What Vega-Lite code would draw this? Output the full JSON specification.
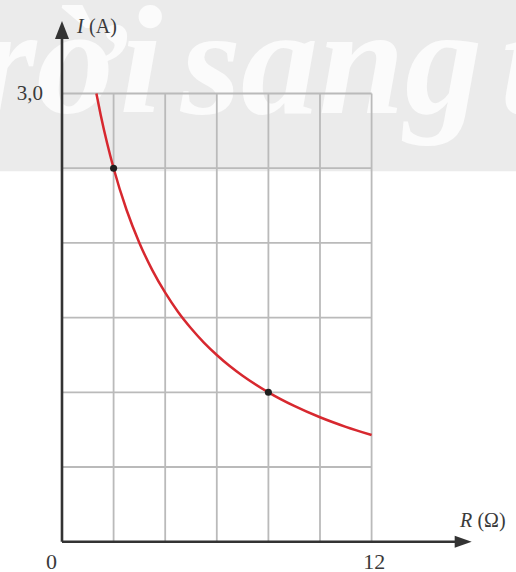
{
  "$schema": "https://vega.github.io/schema/vega-lite/v6.json",
  "width": 516,
  "height": 572,
  "autosize": "none",
  "padding": 0,
  "background": "white",
  "config": {"view": {"stroke": null}},
  "data": {"values": [{"note": "annotation"}]},
  "datasets": {
    "curve": [
      {"R": 1.333, "I": 3.0},
      {"R": 1.5, "I": 2.857},
      {"R": 1.75, "I": 2.667},
      {"R": 2, "I": 2.5},
      {"R": 2.5, "I": 2.222},
      {"R": 3, "I": 2.0},
      {"R": 3.5, "I": 1.818},
      {"R": 4, "I": 1.667},
      {"R": 4.5, "I": 1.538},
      {"R": 5, "I": 1.429},
      {"R": 5.5, "I": 1.333},
      {"R": 6, "I": 1.25},
      {"R": 6.5, "I": 1.176},
      {"R": 7, "I": 1.111},
      {"R": 8, "I": 1.0},
      {"R": 9, "I": 0.909},
      {"R": 10, "I": 0.833},
      {"R": 11, "I": 0.769},
      {"R": 12, "I": 0.714}
    ],
    "points": [
      {"R": 2, "I": 2.5},
      {"R": 8, "I": 1.0}
    ],
    "vgrid": [{"R": 2}, {"R": 4}, {"R": 6}, {"R": 8}, {"R": 10}, {"R": 12}],
    "hgrid": [{"I": 0.5}, {"I": 1.0}, {"I": 1.5}, {"I": 2.0}, {"I": 2.5}, {"I": 3.0}]
  },
  "layer": [
    {
      "mark": {"type": "rect", "color": "#ebebeb"},
      "encoding": {
        "x": {"datum": -2.6, "type": "quantitative", "scale": {"domain": [-2.403, 17.597], "nice": false, "zero": false}, "axis": null},
        "x2": {"datum": 17.8},
        "y": {"datum": 2.48, "type": "quantitative", "scale": {"domain": [-0.2028, 3.626], "nice": false, "zero": false}, "axis": null},
        "y2": {"datum": 3.7}
      }
    },
    {
      "mark": {"type": "text", "color": "#fbfbfb", "font": "Liberation Sans Narrow", "fontStyle": "italic", "fontWeight": "bold", "fontSize": 155, "align": "left", "baseline": "alphabetic"},
      "encoding": {
        "x": {"datum": 4.6, "type": "quantitative"},
        "y": {"datum": 2.869, "type": "quantitative"},
        "text": {"value": "sang"}
      }
    },
    {
      "mark": {"type": "text", "color": "#fbfbfb", "font": "Liberation Sans Narrow", "fontStyle": "italic", "fontWeight": "bold", "fontSize": 155, "align": "right", "baseline": "alphabetic"},
      "encoding": {
        "x": {"datum": 3.9, "type": "quantitative"},
        "y": {"datum": 2.869, "type": "quantitative"},
        "text": {"value": "rời"}
      }
    },
    {
      "mark": {"type": "text", "color": "#fbfbfb", "font": "Liberation Sans Narrow", "fontStyle": "italic", "fontWeight": "bold", "fontSize": 155, "align": "left", "baseline": "alphabetic"},
      "encoding": {
        "x": {"datum": 17.0, "type": "quantitative"},
        "y": {"datum": 2.869, "type": "quantitative"},
        "text": {"value": "tr"}
      }
    },
    {
      "data": {"name": "vgrid"},
      "mark": {"type": "rule", "color": "#bababa", "strokeWidth": 1.8},
      "encoding": {
        "x": {"field": "R", "type": "quantitative"},
        "y": {"datum": 0, "type": "quantitative"},
        "y2": {"datum": 3}
      }
    },
    {
      "data": {"name": "hgrid"},
      "mark": {"type": "rule", "color": "#bababa", "strokeWidth": 1.8},
      "encoding": {
        "x": {"datum": 0, "type": "quantitative"},
        "x2": {"datum": 12},
        "y": {"field": "I", "type": "quantitative"}
      }
    },
    {
      "data": {"name": "curve"},
      "mark": {"type": "line", "color": "#d7282f", "strokeWidth": 2.5, "interpolate": "monotone"},
      "encoding": {
        "x": {"field": "R", "type": "quantitative"},
        "y": {"field": "I", "type": "quantitative"}
      }
    },
    {
      "data": {"name": "points"},
      "mark": {"type": "circle", "color": "#1e1e1e", "size": 50, "opacity": 1},
      "encoding": {
        "x": {"field": "R", "type": "quantitative"},
        "y": {"field": "I", "type": "quantitative"}
      }
    },
    {
      "mark": {"type": "rule", "color": "#333333", "strokeWidth": 2.6},
      "encoding": {
        "x": {"datum": 0, "type": "quantitative"},
        "y": {"datum": 0, "type": "quantitative"},
        "y2": {"datum": 3.43}
      }
    },
    {
      "mark": {"type": "rule", "color": "#333333", "strokeWidth": 2.6},
      "encoding": {
        "x": {"datum": 0, "type": "quantitative"},
        "x2": {"datum": 15.45},
        "y": {"datum": 0, "type": "quantitative"}
      }
    },
    {
      "mark": {"type": "point", "filled": true, "color": "#333333", "opacity": 1, "size": 324, "shape": "M0,-1L0.78,1L-0.78,1Z"},
      "encoding": {
        "x": {"datum": 0, "type": "quantitative"},
        "y": {"datum": 3.425, "type": "quantitative"}
      }
    },
    {
      "mark": {"type": "point", "filled": true, "color": "#333333", "opacity": 1, "size": 289, "shape": "M1,0L-1,0.7L-1,-0.7Z"},
      "encoding": {
        "x": {"datum": 15.55, "type": "quantitative"},
        "y": {"datum": 0, "type": "quantitative"}
      }
    },
    {
      "mark": {"type": "text", "font": "Liberation Serif", "fontSize": 21, "color": "#3a3a3a", "align": "right", "baseline": "middle"},
      "encoding": {
        "x": {"datum": -0.74, "type": "quantitative"},
        "y": {"datum": 3.0, "type": "quantitative"},
        "text": {"value": "3,0"}
      }
    },
    {
      "mark": {"type": "text", "font": "Liberation Serif", "fontSize": 22, "color": "#3a3a3a", "align": "center", "baseline": "middle"},
      "encoding": {
        "x": {"datum": -0.41, "type": "quantitative"},
        "y": {"datum": -0.139, "type": "quantitative"},
        "text": {"value": "0"}
      }
    },
    {
      "mark": {"type": "text", "font": "Liberation Serif", "fontSize": 22, "color": "#3a3a3a", "align": "center", "baseline": "middle"},
      "encoding": {
        "x": {"datum": 12.1, "type": "quantitative"},
        "y": {"datum": -0.139, "type": "quantitative"},
        "text": {"value": "12"}
      }
    },
    {
      "mark": {"type": "text", "font": "Liberation Serif", "fontSize": 20, "fontStyle": "italic", "color": "#3a3a3a", "align": "left", "baseline": "alphabetic"},
      "encoding": {
        "x": {"datum": 0.58, "type": "quantitative"},
        "y": {"datum": 3.407, "type": "quantitative"},
        "text": {"value": "I"}
      }
    },
    {
      "mark": {"type": "text", "font": "Liberation Serif", "fontSize": 20, "color": "#3a3a3a", "align": "left", "baseline": "alphabetic"},
      "encoding": {
        "x": {"datum": 1.05, "type": "quantitative"},
        "y": {"datum": 3.407, "type": "quantitative"},
        "text": {"value": "(A)"}
      }
    },
    {
      "mark": {"type": "text", "font": "Liberation Serif", "fontSize": 20, "fontStyle": "italic", "color": "#3a3a3a", "align": "left", "baseline": "alphabetic"},
      "encoding": {
        "x": {"datum": 15.43, "type": "quantitative"},
        "y": {"datum": 0.098, "type": "quantitative"},
        "text": {"value": "R"}
      }
    },
    {
      "mark": {"type": "text", "font": "Liberation Serif", "fontSize": 20, "color": "#3a3a3a", "align": "left", "baseline": "alphabetic"},
      "encoding": {
        "x": {"datum": 16.1, "type": "quantitative"},
        "y": {"datum": 0.098, "type": "quantitative"},
        "text": {"value": "(Ω)"}
      }
    }
  ]
}
